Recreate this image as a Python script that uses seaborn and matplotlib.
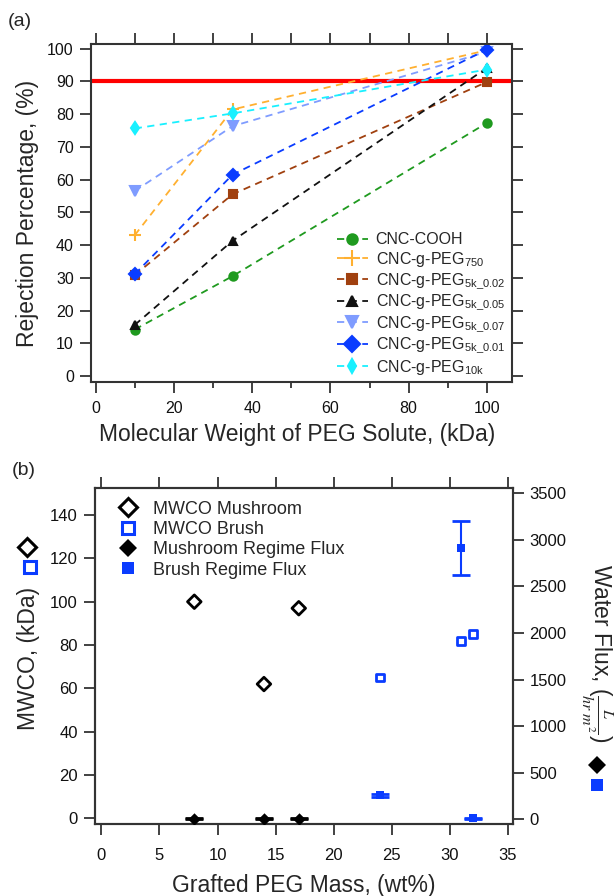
import matplotlib
matplotlib.use("Agg")
import matplotlib.pyplot as plt
from matplotlib.lines import Line2D
from matplotlib.ticker import MultipleLocator
import numpy as np
import pandas as pd
import seaborn as sns

# ---- panel (a) data: rejection vs PEG solute molecular weight ----
mw_kda = [10, 35, 100]
series_names = [
    "CNC-COOH",
    r"CNC-g-PEG$_\mathregular{750}$",
    r"CNC-g-PEG$_\mathregular{5k\_0.02}$",
    r"CNC-g-PEG$_\mathregular{5k\_0.05}$",
    r"CNC-g-PEG$_\mathregular{5k\_0.07}$",
    r"CNC-g-PEG$_\mathregular{5k\_0.01}$",
    r"CNC-g-PEG$_\mathregular{10k}$",
]
rej_cooh = [14.2, 30.5, 77.3]
rej_peg750 = [43.0, 81.4, 99.5]
rej_5k_002 = [30.8, 55.5, 89.8]
rej_5k_005 = [15.6, 41.3, 94.1]
rej_5k_007 = [56.5, 76.3, 99.0]
rej_5k_001 = [31.1, 61.5, 99.7]
rej_10k = [75.6, 80.2, 93.6]
threshold = 90

# ---- panel (b) data: MWCO and water flux vs grafted PEG mass ----
mush_mass = [8, 14, 17]
mush_mwco = [100, 62, 97]
mush_flux = [5, 5, 5]
mush_flux_err = [3, 3, 3]
brush_mass = [24, 31, 32]
brush_mwco = [65, 82, 85]
brush_flux = [255, 2910, 8]
brush_flux_err = [12, 288, 5]

rejections = [rej_cooh, rej_peg750, rej_5k_002, rej_5k_005, rej_5k_007, rej_5k_001, rej_10k]
colors = ["#1f9a1f", "#ffb030", "#a0400f", "#111111", "#7f9cff", "#0a3cff", "#19f0ff"]
markers = ["o", "+", "s", "^", "v", "D", "d"]
msizes = [6, 9, 6, 6, 6.5, 6.5, 6]

sns.set_style("ticks")
plt.rcParams["font.family"] = ["Liberation Sans", "DejaVu Sans"]
plt.rcParams["mathtext.fontset"] = "stix"
plt.rcParams["axes.edgecolor"] = "#333333"
plt.rcParams["axes.linewidth"] = 1.5
plt.rcParams["xtick.color"] = "#333333"
plt.rcParams["ytick.color"] = "#333333"
plt.rcParams["xtick.labelcolor"] = "#111111"
plt.rcParams["ytick.labelcolor"] = "#111111"

fig = plt.figure(figsize=(6.14, 8.96), dpi=100)
W, H = 614, 896

# ================= panel (a) =================
ax = fig.add_axes([90.5 / W, 1 - 382 / H, 421.1 / W, 338 / H])
for name, vals, c, m, ms in zip(series_names, rejections, colors, markers, msizes):
    sns.lineplot(x=mw_kda, y=vals, ax=ax, color=c, marker=m, markersize=ms,
                 markeredgecolor=c, markerfacecolor=c, markeredgewidth=1.5,
                 linestyle=(0, (4, 3)), linewidth=1.3, label=name)
ax.axhline(threshold, color="#ff0000", linewidth=3, zorder=1.5)

ax.set_xlim(-1.3, 106.3)
ax.set_ylim(-1.83, 101.4)
ax.xaxis.set_major_locator(MultipleLocator(20))
ax.xaxis.set_minor_locator(MultipleLocator(10))
ax.yaxis.set_major_locator(MultipleLocator(10))
ax.tick_params(axis="both", which="major", direction="out", length=8, width=1.3,
               labelsize=11.5, pad=4)
ax.tick_params(axis="x", which="major", pad=6)
ax.tick_params(axis="x", which="minor", direction="out", length=4, width=1.3)
ax.tick_params(axis="y", right=True)
sec = ax.secondary_xaxis("top")
sec.set_xticks(np.arange(0, 101, 10))
sec.set_xticklabels([])
sec.tick_params(direction="out", length=8, width=1.3)
sec.spines["top"].set_visible(False)

ax.set_xlabel("Molecular Weight of PEG Solute, (kDa)", fontsize=16.5, va="center")
ax.set_ylabel("Rejection Percentage, (%)", fontsize=16.5, va="center")
ax.xaxis.set_label_coords(0.49, -(435 - 382) / 338)
ax.yaxis.set_label_coords((27.5 - 90.5) / 421.1, 0.5)

leg = ax.legend(loc="lower right", bbox_to_anchor=(0.985, 0.015), frameon=False,
                fontsize=11.5, handlelength=2.0, handletextpad=0.45, labelspacing=0.16,
                borderpad=0, borderaxespad=0, markerscale=1.25)
fig.text(20 / W, 1 - 21.7 / H, "(a)", fontsize=14, ha="center", va="center")

# ================= panel (b) =================
bx = fig.add_axes([94.5 / W, 1 - 824 / H, 418.4 / W, 336 / H])
bx2 = bx.twinx()

sns.scatterplot(x=mush_mass, y=mush_mwco, ax=bx, marker="D", s=48,
                facecolor="none", edgecolor="black", linewidth=2, zorder=3)
sns.scatterplot(x=brush_mass, y=brush_mwco, ax=bx, marker="s", s=30,
                facecolor="none", edgecolor="#0a3cff", linewidth=2, zorder=3)

bx2.errorbar(mush_mass, mush_flux, yerr=mush_flux_err, fmt="none",
             ecolor="black", elinewidth=1.5, capsize=6.5, capthick=2)
bx2.errorbar(brush_mass, brush_flux, yerr=brush_flux_err, fmt="none",
             ecolor="#0a3cff", elinewidth=1.5, capsize=6.5, capthick=2)
sns.scatterplot(x=mush_mass, y=mush_flux, ax=bx2, marker="D", s=40,
                color="black", edgecolor="black", linewidth=0, zorder=3)
sns.scatterplot(x=brush_mass, y=brush_flux, ax=bx2, marker="s", s=30,
                color="#0a3cff", edgecolor="#0a3cff", linewidth=0, zorder=3)

bx.set_xlim(-0.6, 35.45)
bx.set_ylim(-2.6, 152.5)
bx2.set_ylim(-52, 3557)
bx.xaxis.set_major_locator(MultipleLocator(5))
bx.set_yticks(np.arange(0, 141, 20))
bx2.set_yticks(np.arange(0, 3501, 500))
bx.tick_params(axis="both", direction="out", length=8, width=1.3, labelsize=12, pad=4)
bx.tick_params(axis="x", pad=9)
bx2.tick_params(axis="y", direction="out", length=8, width=1.3, labelsize=12, pad=4)
sec_b = bx.secondary_xaxis("top")
sec_b.set_xticks(np.arange(0, 36, 5))
sec_b.set_xticklabels([])
sec_b.tick_params(direction="out", length=8, width=1.3)
sec_b.spines["top"].set_visible(False)

bx.set_xlabel("Grafted PEG Mass, (wt%)", fontsize=16.5, va="center")
bx.xaxis.set_label_coords(0.5, -(885 - 824) / 336)
bx.set_ylabel("MWCO, (kDa)", fontsize=16.5, va="center")
bx.yaxis.set_label_coords((29 - 94.5) / 418.4, (824 - 658.5) / 336)
bx2.set_ylabel(r"Water Flux, ($\frac{L}{hr\ m^2}$)", fontsize=16.5,
               rotation=-90, va="center", ha="center")
bx2.yaxis.set_label_coords((597 - 94.5) / 418.4, (824 - 653) / 336)

handles = [
    Line2D([], [], ls="none", marker="D", ms=9, mfc="none", mec="black", mew=2.2),
    Line2D([], [], ls="none", marker="s", ms=8, mfc="none", mec="#0a3cff", mew=2.2),
    Line2D([], [], ls="none", marker="D", ms=9, mfc="black", mec="black", mew=0),
    Line2D([], [], ls="none", marker="s", ms=8, mfc="#0a3cff", mec="#0a3cff", mew=0),
]
labels = ["MWCO Mushroom", "MWCO Brush", "Mushroom Regime Flux", "Brush Regime Flux"]
bx2.legend(handles, labels, loc="upper left", bbox_to_anchor=(0.058, 0.962),
           frameon=False, fontsize=13, handlelength=1.0, handletextpad=0.9,
           labelspacing=0.18, borderpad=0, borderaxespad=0)

# axis-label symbol keys
fig.add_artist(Line2D([26.7 / W], [1 - 546.7 / H], transform=fig.transFigure, ls="none",
                      marker="D", ms=9, mfc="none", mec="black", mew=2.2))
fig.add_artist(Line2D([30 / W], [1 - 566.7 / H], transform=fig.transFigure, ls="none",
                      marker="s", ms=8, mfc="none", mec="#0a3cff", mew=2.2))
fig.add_artist(Line2D([597 / W], [1 - 765 / H], transform=fig.transFigure, ls="none",
                      marker="D", ms=9, mfc="black", mec="black", mew=0))
fig.add_artist(Line2D([597 / W], [1 - 785 / H], transform=fig.transFigure, ls="none",
                      marker="s", ms=8, mfc="#0a3cff", mec="#0a3cff", mew=0))
fig.text(24 / W, 1 - 470 / H, "(b)", fontsize=14, ha="center", va="center")

fig.savefig("out.png", dpi=100)
